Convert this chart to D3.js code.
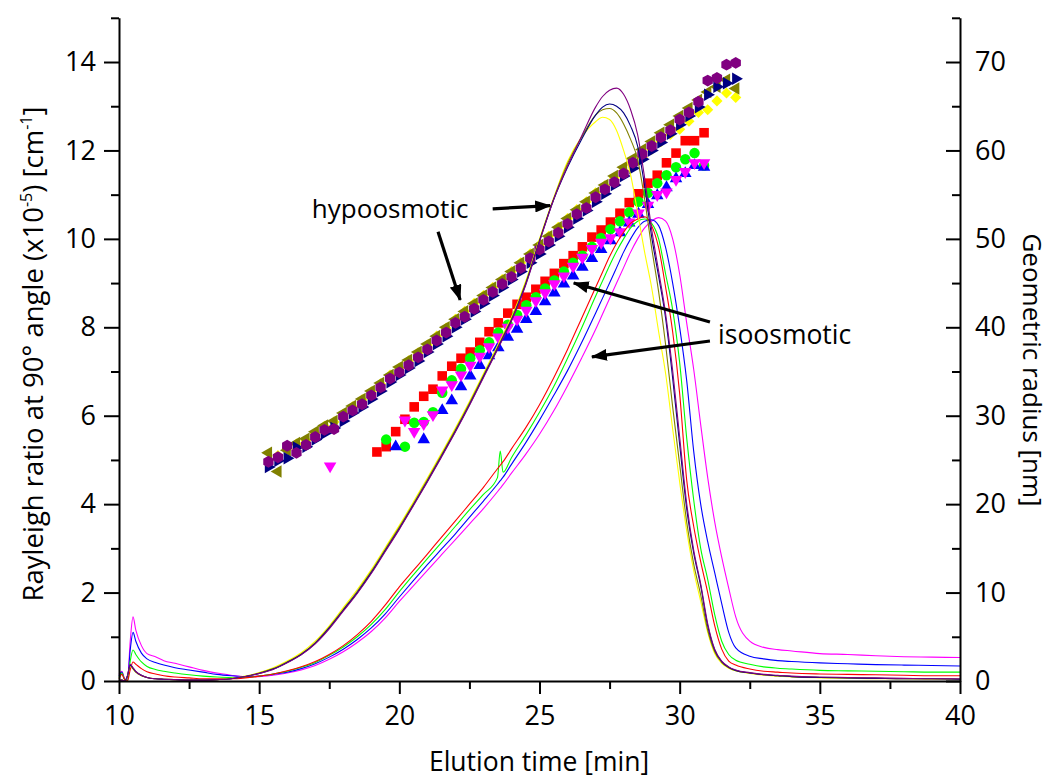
<!DOCTYPE html>
<html>
<head>
<meta charset="utf-8">
<script src="https://cdn.jsdelivr.net/npm/d3@7"></script>
<style>
  body { margin: 0; background: #fff; }
  svg text { font-family: "Open Sans", "Noto Sans", sans-serif; fill: #000; }
</style>
</head>
<body>
<svg id="chart" width="1050" height="781"></svg>
<script>
// ---- Light-scattering traces (left axis), Rayleigh ratio x10^-5 cm^-1 ----
const lsTimes = [10.0, 10.1, 10.2, 10.3, 10.4, 10.5, 10.6, 10.8, 11.0, 11.3, 11.6, 12.0, 12.5, 13.0, 13.5, 14.0, 14.5, 15.0,
  15.5, 16.0, 16.5, 17.0, 17.5, 18.0, 18.5, 19.0, 19.5, 20.0, 20.5, 21.0, 21.5, 22.0, 22.5, 23.0, 23.5, 23.6, 23.7,
  24.0, 24.5, 25.0, 25.5, 26.0, 26.5, 27.0, 27.25, 27.5, 27.75, 28.0, 28.25, 28.5, 28.75, 29.0, 29.25, 29.5, 29.75,
  30.0, 30.25, 30.5, 30.75, 31.0, 31.25, 31.5, 31.75, 32.0, 32.5, 33.0, 33.5, 34.0, 35.0, 36.0, 37.0, 38.0, 39.0, 40.0];

// hypoosmotic runs
const lsPurple = [0.0, 0.02, 0.0, 0.12, 0.38, 0.30, 0.22, 0.13, 0.08, 0.05, 0.04, 0.03, 0.02, 0.02, 0.03, 0.05, 0.10, 0.17,
  0.26, 0.41, 0.59, 0.84, 1.18, 1.58, 1.98, 2.43, 2.93, 3.43, 3.96, 4.50, 5.06, 5.63, 6.23, 6.86, 7.49, 7.62, 7.75,
  8.14, 8.94, 9.93, 10.88, 11.65, 12.32, 12.98, 13.22, 13.36, 13.41, 13.27, 12.92, 12.36, 11.38, 10.22, 9.27,
  8.30, 7.02, 5.52, 4.02, 2.96, 2.20, 1.30, 0.72, 0.45, 0.32, 0.25, 0.19, 0.15, 0.13, 0.11, 0.09, 0.08, 0.07, 0.06, 0.05, 0.05];
const lsNavy = [0.0, 0.02, 0.0, 0.11, 0.36, 0.29, 0.21, 0.13, 0.08, 0.05, 0.04, 0.03, 0.02, 0.02, 0.03, 0.05, 0.10, 0.17,
  0.27, 0.42, 0.60, 0.85, 1.20, 1.60, 2.00, 2.45, 2.95, 3.45, 3.98, 4.52, 5.08, 5.65, 6.25, 6.88, 7.51, 7.64, 7.77,
  8.16, 8.96, 9.95, 10.88, 11.62, 12.25, 12.80, 12.98, 13.05, 13.00, 12.85, 12.55, 12.10, 11.20, 10.05, 9.15,
  8.20, 6.85, 5.35, 3.90, 2.90, 2.15, 1.25, 0.70, 0.44, 0.31, 0.24, 0.18, 0.14, 0.12, 0.10, 0.08, 0.07, 0.06, 0.05, 0.05, 0.04];
const lsOlive = [0.0, 0.02, 0.0, 0.11, 0.35, 0.28, 0.20, 0.12, 0.08, 0.05, 0.04, 0.03, 0.02, 0.02, 0.03, 0.05, 0.10, 0.18,
  0.28, 0.43, 0.61, 0.87, 1.22, 1.62, 2.03, 2.48, 2.98, 3.48, 4.01, 4.55, 5.11, 5.68, 6.28, 6.91, 7.54, 7.67, 7.80,
  8.19, 8.99, 9.97, 10.90, 11.70, 12.30, 12.80, 12.92, 12.95, 12.85, 12.60, 12.25, 11.80, 10.90, 9.80, 8.80,
  7.60, 6.20, 4.90, 3.60, 2.65, 1.95, 1.15, 0.66, 0.42, 0.30, 0.23, 0.18, 0.14, 0.12, 0.10, 0.08, 0.07, 0.06, 0.05, 0.05, 0.04];
const lsYellow = [0.0, 0.02, 0.0, 0.10, 0.34, 0.27, 0.20, 0.12, 0.08, 0.05, 0.04, 0.03, 0.02, 0.02, 0.03, 0.06, 0.11, 0.19,
  0.30, 0.45, 0.64, 0.90, 1.25, 1.66, 2.07, 2.52, 3.02, 3.52, 4.05, 4.59, 5.15, 5.72, 6.32, 6.95, 7.58, 7.71, 7.84,
  8.23, 9.03, 10.00, 10.92, 11.75, 12.30, 12.65, 12.75, 12.70, 12.45, 12.00, 11.45, 10.60, 9.70, 8.90, 7.90,
  6.95, 5.70, 4.50, 3.40, 2.50, 1.80, 1.10, 0.62, 0.40, 0.29, 0.23, 0.17, 0.13, 0.11, 0.09, 0.07, 0.06, 0.05, 0.05, 0.04, 0.04];

// isoosmotic runs
const lsRed = [0.05, 0.15, 0.03, 0.0, 0.25, 0.43, 0.38, 0.28, 0.21, 0.16, 0.12, 0.09, 0.07, 0.05, 0.05, 0.05, 0.07, 0.11,
  0.16, 0.23, 0.32, 0.44, 0.60, 0.80, 1.05, 1.35, 1.72, 2.13, 2.50, 2.87, 3.25, 3.62, 4.00, 4.38, 4.80, 4.88, 4.96,
  5.25, 5.72, 6.25, 6.85, 7.50, 8.20, 8.90, 9.25, 9.60, 9.90, 10.15, 10.35, 10.45, 10.50, 10.30, 9.80,
  8.90, 7.90, 6.50, 4.55, 3.50, 2.70, 2.00, 1.25, 0.72, 0.45, 0.36, 0.27, 0.22, 0.20, 0.18, 0.16, 0.15, 0.14, 0.13, 0.12, 0.12];
const lsGreen = [0.08, 0.18, 0.03, 0.0, 0.45, 0.70, 0.60, 0.43, 0.33, 0.26, 0.22, 0.18, 0.14, 0.11, 0.09, 0.08, 0.08, 0.11,
  0.16, 0.22, 0.31, 0.42, 0.58, 0.77, 1.00, 1.28, 1.62, 2.02, 2.40, 2.77, 3.13, 3.50, 3.87, 4.22, 4.60, 5.20, 4.72,
  5.05, 5.55, 6.08, 6.65, 7.30, 7.98, 8.70, 9.05, 9.40, 9.72, 10.00, 10.25, 10.40, 10.45, 10.35, 10.00,
  9.20, 8.40, 7.20, 5.50, 4.10, 3.00, 2.30, 1.50, 0.90, 0.60, 0.47, 0.38, 0.32, 0.29, 0.27, 0.24, 0.23, 0.22, 0.21, 0.20, 0.20];
const lsBlue = [0.12, 0.20, 0.04, 0.0, 0.70, 1.10, 0.90, 0.63, 0.50, 0.42, 0.36, 0.30, 0.25, 0.20, 0.15, 0.12, 0.10, 0.11,
  0.15, 0.20, 0.28, 0.39, 0.54, 0.72, 0.94, 1.20, 1.52, 1.90, 2.27, 2.63, 2.98, 3.33, 3.70, 4.07, 4.45, 4.53, 4.61,
  4.90, 5.38, 5.90, 6.45, 7.02, 7.65, 8.32, 8.66, 9.00, 9.35, 9.70, 10.00, 10.25, 10.40, 10.43, 10.30,
  9.80, 9.00, 8.00, 6.80, 5.20, 4.00, 3.15, 2.45, 1.75, 1.10, 0.75, 0.56, 0.50, 0.46, 0.44, 0.41, 0.39, 0.37, 0.36, 0.35, 0.34];
const lsMagenta = [0.15, 0.22, 0.05, 0.0, 0.90, 1.45, 1.15, 0.80, 0.62, 0.55, 0.46, 0.40, 0.32, 0.24, 0.18, 0.13, 0.10, 0.10,
  0.13, 0.18, 0.25, 0.35, 0.49, 0.66, 0.87, 1.12, 1.43, 1.80, 2.15, 2.50, 2.85, 3.20, 3.55, 3.90, 4.28, 4.36, 4.44,
  4.70, 5.12, 5.58, 6.10, 6.68, 7.30, 7.95, 8.30, 8.65, 9.00, 9.35, 9.70, 10.00, 10.25, 10.40, 10.48,
  10.40, 10.00, 9.20, 8.10, 7.05, 5.80, 4.60, 3.60, 2.80, 2.10, 1.45, 0.90, 0.76, 0.71, 0.68, 0.62, 0.60, 0.57, 0.55, 0.54, 0.53];

// ---- Geometric radius (right axis), nm ----
const hypoTimes = [15.33, 15.67, 16.00, 16.33, 16.67, 17.00, 17.33, 17.67, 18.00, 18.33, 18.67, 19.00, 19.33, 19.67,
  20.00, 20.33, 20.67, 21.00, 21.33, 21.67, 22.00, 22.33, 22.67, 23.00, 23.33, 23.67, 24.00, 24.33, 24.67, 25.00,
  25.33, 25.67, 26.00, 26.33, 26.67, 27.00, 27.33, 27.67, 28.00, 28.33, 28.67, 29.00, 29.33, 29.67, 30.00, 30.33,
  30.67, 31.00, 31.33, 31.67, 32.00];
const rgPurple = [24.8, 25.3, 26.6, 25.8, 26.7, 27.6, 28.4, 28.5, 29.9, 30.6, 31.3, 32.3, 33.2, 34.2, 34.9, 35.7, 36.6,
  37.5, 38.5, 39.4, 40.5, 41.2, 42.1, 43.1, 44.0, 44.9, 45.7, 46.7, 47.8, 48.8, 49.7, 50.7, 51.7, 52.8, 53.5, 54.7,
  55.6, 56.4, 57.4, 58.6, 59.6, 60.5, 61.5, 62.3, 63.5, 64.3, 65.5, 67.9, 68.2, 69.7, 69.9];
const rgNavy = [24.2, 24.9, 25.2, 26.4, 26.5, 27.3, 28.0, 28.6, 29.4, 30.3, 31.0, 31.9, 32.8, 33.8, 34.6, 35.4, 36.2,
  37.2, 38.1, 39.0, 40.0, 40.9, 41.8, 42.7, 43.6, 44.5, 45.4, 46.3, 47.3, 48.3, 49.3, 50.3, 51.3, 52.3, 53.2, 54.2,
  55.1, 56.1, 57.1, 58.0, 59.0, 60.0, 60.9, 61.9, 62.9, 63.9, 64.9, 66.3, 67.2, 67.6, 68.1];
const rgOlive = [25.8, 23.7, 26.1, 26.9, 27.4, 28.2, 28.9, 29.4, 30.3, 31.1, 31.9, 32.8, 33.7, 34.6, 35.5, 36.3, 37.2,
  38.1, 39.0, 40.0, 40.9, 41.8, 42.7, 43.6, 44.5, 45.4, 46.3, 47.3, 48.3, 49.3, 50.3, 51.3, 52.3, 53.3, 54.2, 55.2,
  56.1, 57.1, 58.1, 59.1, 60.1, 61.0, 62.0, 62.9, 63.9, 64.8, 65.7, 66.6, 67.2, 68.0, 67.0];
const rgYellow = [null, 25.5, 26.3, 26.8, 27.2, 28.0, 28.8, 29.3, 30.2, 31.0, 31.8, 32.7, 33.6, 34.6, 35.4, 36.2, 37.1,
  38.0, 39.0, 39.9, 40.9, 41.8, 42.7, 43.6, 44.5, 45.4, 46.3, 47.3, 48.3, 49.3, 50.3, 51.3, 52.3, 53.3, 54.2, 55.2,
  56.0, 56.9, 57.7, 58.4, 59.2, 60.1, 61.0, 61.8, 62.4, 63.3, 64.3, 64.6, 65.6, 66.5, 66.0];

const isoTimes = [17.53, 17.87, 18.20, 18.53, 18.87, 19.20, 19.53, 19.87, 20.20, 20.53, 20.87, 21.20, 21.53, 21.87,
  22.20, 22.53, 22.87, 23.20, 23.53, 23.87, 24.20, 24.53, 24.87, 25.20, 25.53, 25.87, 26.20, 26.53, 26.87, 27.20,
  27.53, 27.87, 28.20, 28.53, 28.87, 29.20, 29.53, 29.87, 30.20, 30.53, 30.87];
const rgRed = [null, null, null, null, null, 25.9, 26.5, 28.2, 29.6, 31.0, 32.2, 33.0, 34.5, 35.6, 36.5, 37.2, 38.3,
  39.5, 40.5, 41.6, 42.6, 43.4, 44.3, 45.2, 46.1, 47.2, 48.1, 49.1, 50.2, 51.0, 51.9, 52.9, 54.1, 55.1, 56.3, 57.2,
  58.6, 59.7, 61.1, 61.1, 62.0];
const rgGreen = [null, null, null, null, null, null, 27.3, null, 26.5, 29.2, 29.3, 30.4, 32.6, 34.0, 35.3, 36.5, 37.4,
  38.3, 39.4, 40.3, 41.4, 42.5, 43.4, 44.4, 45.3, 46.3, 47.3, 48.1, 49.1, 50.1, 51.1, 52.0, 53.0, 54.2, 55.2, 56.3,
  57.2, 58.1, 59.0, 59.7, 58.3];
const rgBlue = [null, null, null, null, null, null, null, 26.5, null, null, 27.3, null, 30.6, 31.7, 33.3, 34.5, 35.7,
  36.8, 37.7, 38.9, 39.8, 40.9, 41.8, 42.9, 43.9, 44.9, 45.8, 46.8, 47.8, 48.8, 49.8, 50.7, 51.8, 52.8, 53.9, 54.9,
  55.8, 56.8, 57.4, 58.3, 58.1];
const rgMagenta = [24.3, null, null, null, null, null, null, null, 29.5, 28.2, 29.1, 30.1, 32.9, 33.5, 34.6, 35.7, 36.7,
  37.8, 38.9, 40.0, 40.9, 41.9, 43.0, 43.9, 44.9, 45.8, 46.9, 47.9, 48.9, 49.6, 50.1, 50.8, 51.9, 52.9, 53.8, 55.0,
  55.3, 56.7, 57.6, 58.6, 58.6];

// ---- Axis ticks ----
const xMajorTicks = [10, 15, 20, 25, 30, 35, 40];
const xMinorTicks = [12.5, 17.5, 22.5, 27.5, 32.5, 37.5];
const yLeftMajorTicks = [0, 2, 4, 6, 8, 10, 12, 14];
const yLeftMinorTicks = [1, 3, 5, 7, 9, 11, 13, 15];
const yRightMajorTicks = [0, 10, 20, 30, 40, 50, 60, 70];
const yRightMinorTicks = [5, 15, 25, 35, 45, 55, 65, 75];

// ---- Drawing ----
const svg = d3.select('#chart');
const x = d3.scaleLinear().domain([10, 40]).range([119, 960]);
const yL = d3.scaleLinear().domain([0, 15]).range([681, 17.8]);
const yR = d3.scaleLinear().domain([0, 75]).range([681, 17.8]);

const C = {
  purple: '#800080', navy: '#000080', olive: '#808000', yellow: '#ffff00',
  red: '#ff0000', green: '#00ff00', blue: '#0000ff', magenta: '#ff00ff'
};

// custom hexagon symbol
const symbolHexagon = {
  draw(ctx, size) {
    const r = Math.sqrt(2 * size / (3 * Math.sqrt(3)));
    for (let i = 0; i < 6; i++) {
      const a = -Math.PI / 2 + i * Math.PI / 3;
      const px = r * Math.cos(a), py = r * Math.sin(a);
      if (i === 0) ctx.moveTo(px, py); else ctx.lineTo(px, py);
    }
    ctx.closePath();
  }
};

const markerSeries = [
  { times: isoTimes, vals: rgRed, color: C.red, type: d3.symbolSquare, size: 92, rot: 0 },
  { times: isoTimes, vals: rgGreen, color: C.green, type: d3.symbolCircle, size: 86, rot: 0 },
  { times: isoTimes, vals: rgBlue, color: C.blue, type: d3.symbolTriangle, size: 68, rot: 0 },
  { times: isoTimes, vals: rgMagenta, color: C.magenta, type: d3.symbolTriangle, size: 68, rot: 180 },
  { times: hypoTimes, vals: rgYellow, color: C.yellow, type: d3.symbolSquare, size: 62, rot: 45 },
  { times: hypoTimes, vals: rgOlive, color: C.olive, type: d3.symbolTriangle, size: 68, rot: -90 },
  { times: hypoTimes, vals: rgNavy, color: C.navy, type: d3.symbolTriangle, size: 68, rot: 90 },
  { times: hypoTimes, vals: rgPurple, color: C.purple, type: symbolHexagon, size: 92, rot: 0 }
];

const lineSeries = [
  { vals: lsMagenta, color: C.magenta },
  { vals: lsBlue, color: C.blue },
  { vals: lsGreen, color: C.green },
  { vals: lsRed, color: C.red },
  { vals: lsYellow, color: C.yellow },
  { vals: lsOlive, color: C.olive },
  { vals: lsNavy, color: C.navy },
  { vals: lsPurple, color: C.purple }
];

// radius markers
const gMarkers = svg.append('g');
markerSeries.forEach(s => {
  const pts = s.times.map((t, i) => ({ t, r: s.vals[i] })).filter(d => d.r != null);
  gMarkers.append('g').selectAll('path').data(pts).join('path')
    .attr('d', d3.symbol().type(s.type).size(s.size))
    .attr('transform', d => `translate(${x(d.t)},${yR(d.r)}) rotate(${s.rot})`)
    .attr('fill', s.color);
});

// light-scattering traces
const line = d3.line().x(d => x(d.t)).y(d => yL(d.v)).curve(d3.curveMonotoneX);
const gLines = svg.append('g');
lineSeries.forEach(s => {
  gLines.append('path')
    .datum(lsTimes.map((t, i) => ({ t, v: s.vals[i] })))
    .attr('d', line)
    .attr('fill', 'none')
    .attr('stroke', s.color)
    .attr('stroke-width', 1.1);
});

// axes
function styleAxis(g) {
  g.selectAll('path.domain').attr('stroke', '#000').attr('stroke-width', 2);
  g.selectAll('.tick line').attr('stroke', '#000').attr('stroke-width', 2);
  g.selectAll('.tick text').attr('font-size', 27).attr('font-family', '"Open Sans", sans-serif');
}
const gx = svg.append('g').attr('transform', 'translate(0,681)')
  .call(d3.axisBottom(x).tickValues(xMajorTicks).tickSize(13).tickSizeOuter(0).tickPadding(12).tickFormat(d3.format('d')));
svg.append('g').attr('transform', 'translate(0,681)')
  .call(d3.axisBottom(x).tickValues(xMinorTicks).tickSize(8).tickSizeOuter(0).tickFormat(''))
  .call(g => g.select('.domain').remove()).call(styleAxis);
styleAxis(gx);

const gyl = svg.append('g').attr('transform', 'translate(119,0)')
  .call(d3.axisLeft(yL).tickValues(yLeftMajorTicks).tickSize(15).tickSizeOuter(0).tickPadding(8).tickFormat(d3.format('d')));
svg.append('g').attr('transform', 'translate(119,0)')
  .call(d3.axisLeft(yL).tickValues(yLeftMinorTicks).tickSize(8).tickSizeOuter(0).tickFormat(''))
  .call(g => g.select('.domain').remove()).call(styleAxis);
styleAxis(gyl);

const gyr = svg.append('g').attr('transform', 'translate(960,0)')
  .call(d3.axisRight(yR).tickValues(yRightMajorTicks).tickSize(-14).tickSizeOuter(0).tickPadding(15).tickFormat(d3.format('d')));
svg.append('g').attr('transform', 'translate(960,0)')
  .call(d3.axisRight(yR).tickValues(yRightMinorTicks).tickSize(-8).tickSizeOuter(0).tickFormat(''))
  .call(g => g.select('.domain').remove()).call(styleAxis);
styleAxis(gyr);

// axis titles
svg.append('text').attr('x', 539).attr('y', 771).attr('text-anchor', 'middle')
  .attr('font-size', 26.5).text('Elution time [min]');

const leftTitle = svg.append('text')
  .attr('transform', 'translate(43,354) rotate(-90)')
  .attr('text-anchor', 'middle').attr('font-size', 27.5);
leftTitle.append('tspan').text('Rayleigh ratio at 90° angle (x10');
leftTitle.append('tspan').attr('font-size', 16).attr('dy', -11).text('-5');
leftTitle.append('tspan').attr('dy', 11).text(') [cm');
leftTitle.append('tspan').attr('font-size', 16).attr('dy', -11).text('-1');
leftTitle.append('tspan').attr('dy', 11).text(']');

svg.append('text')
  .attr('transform', 'translate(1023,370) rotate(90)')
  .attr('text-anchor', 'middle').attr('font-size', 26).text('Geometric radius [nm]');

// annotations with arrows (anchored in data units of the left axis)
const defs = svg.append('defs');
defs.append('marker').attr('id', 'arrowHead')
  .attr('markerUnits', 'userSpaceOnUse').attr('markerWidth', 16).attr('markerHeight', 12)
  .attr('refX', 15).attr('refY', 6).attr('orient', 'auto')
  .append('path').attr('d', 'M0,0 L16,6 L0,12 Z').attr('fill', '#000');

const arrows = [
  { from: [23.33, 10.68], to: [25.38, 10.75] },
  { from: [21.38, 10.16], to: [22.17, 8.62] },
  { from: [31.08, 8.12], to: [26.22, 9.00] },
  { from: [31.08, 7.69], to: [26.87, 7.33] }
];
svg.append('g').selectAll('line').data(arrows).join('line')
  .attr('x1', d => x(d.from[0])).attr('y1', d => yL(d.from[1]))
  .attr('x2', d => x(d.to[0])).attr('y2', d => yL(d.to[1]))
  .attr('stroke', '#000').attr('stroke-width', 3.2)
  .attr('marker-end', 'url(#arrowHead)');

svg.append('text').attr('x', x(16.88)).attr('y', yL(10.48)).attr('font-size', 26).text('hypoosmotic');
svg.append('text').attr('x', x(31.37)).attr('y', yL(7.63)).attr('font-size', 26.5).text('isoosmotic');
</script>
</body>
</html>
